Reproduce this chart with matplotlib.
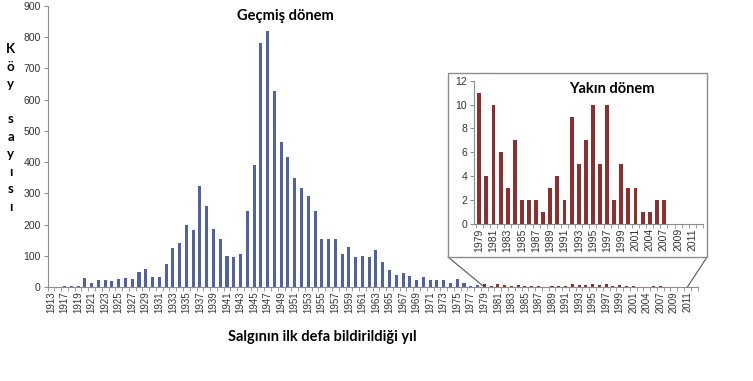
import numpy as np
import matplotlib
matplotlib.use("Agg")
import matplotlib.pyplot as plt
from matplotlib.patches import Rectangle, ConnectionPatch

plt.rcParams['font.family'] = ['Liberation Sans', 'DejaVu Sans']

# ---- data ----
past_years = [1913, 1916, 1917, 1918, 1919] + list(range(1920, 1979))
past_vals = [1, 1, 2, 4, 2,
             30, 14, 22, 21, 19, 25, 28, 26, 47, 58,
             33, 31, 73, 125, 141, 198, 184, 325, 261, 187,
             153, 99, 96, 105, 244, 390, 780, 820, 628, 464,
             417, 348, 317, 290, 245, 153, 153, 154, 106, 127,
             95, 99, 96, 117, 79, 53, 38, 44, 35, 24,
             31, 21, 21, 22, 14, 26, 14, 3, 5]

recent_years = list(range(1979, 2002)) + [2003, 2004, 2006, 2007, 2008, 2009, 2010, 2011, 2012]
recent_vals = [11, 4, 10, 6, 3, 7, 2, 2, 2, 1, 3, 4, 2, 9, 5, 7, 10, 5, 10, 2, 5, 3, 3,
               1, 1, 2, 2, 0, 0, 0, 0, 0]

title_main = "Geçmiş dönem"
title_inset = "Yakın dönem"
xlabel = "Salgının ilk defa bildirildiği yıl"
ylabel = "Köy sayısı"

blue = '#5161A2'
red = '#8E2F2F'
grey = '#8C8C8C'
txt = '#333333'
bold_font = ['Lato', 'DejaVu Sans']

all_years = past_years + recent_years
n_past = len(past_years)
n_all = len(all_years)

fig = plt.figure(figsize=(7.53, 3.81), dpi=100)

# ---- main chart ----
ax = fig.add_axes([0.0632, 0.2467, 0.8632, 0.7375])
xp = np.arange(n_past)
xr = np.arange(n_past, n_all)
ax.bar(xp, past_vals, width=0.45, color=blue)
ax.bar(xr, recent_vals, width=0.45, color=red)
ax.set_xlim(-0.5, n_all - 0.5)
ax.set_ylim(0, 900)
ax.set_yticks(np.arange(0, 901, 100))
ax.tick_params(axis='y', labelsize=7.5, colors=grey, labelcolor=txt, length=3, pad=2)
ax.set_xticks(np.arange(0, n_all, 2))
ax.set_xticklabels([str(y) for y in all_years[::2]], rotation=90, fontsize=7, color=txt)
ax.set_xticks(np.arange(-0.5, n_all, 1), minor=True)
ax.tick_params(axis='x', which='major', length=0, pad=3)
ax.tick_params(axis='x', which='minor', length=3, color=grey)
for s in ['top', 'right']:
    ax.spines[s].set_visible(False)
for s in ['left', 'bottom']:
    ax.spines[s].set_color(grey)
    ax.spines[s].set_linewidth(0.8)

fig.text(0.379, 0.957, title_main, ha='center', va='center', fontsize=10.5,
         fontweight='bold', family=bold_font)
fig.text(0.428, 0.115, xlabel, ha='center', va='center', fontsize=10.5,
         fontweight='bold', family=bold_font)
# vertical, letter-by-letter y label
fig.text(0.014, 0.664, "\n".join(list("Köy") + [""] + list("sayısı")), ha='center',
         va='center', fontsize=9.5, fontweight='bold', family=bold_font,
         linespacing=1.55)

# ---- inset frame ----
box = Rectangle((0.595, 0.3255), 0.344, 0.4829, transform=fig.transFigure,
                facecolor='white', edgecolor=grey, linewidth=1.0, zorder=3)
fig.patches.append(box)

for xb, xi in [(0.595, n_past), (0.939, n_all - 2)]:
    con = ConnectionPatch(xyA=(xb, 0.3255), coordsA=fig.transFigure,
                          xyB=(xi, 0), coordsB=ax.transData,
                          color='#555555', linewidth=0.8)
    fig.add_artist(con)

# ---- inset chart ----
axi = fig.add_axes([0.6295, 0.4121, 0.3041, 0.3761])
axi.set_zorder(5)
xi = np.arange(len(recent_years))
axi.bar(xi, recent_vals, width=0.55, color=red)
axi.set_xlim(-0.74, len(recent_years) - 0.8)
axi.set_ylim(0, 12)
axi.set_yticks(np.arange(0, 13, 2))
axi.tick_params(axis='y', labelsize=7.5, colors=grey, labelcolor=txt, length=3, pad=2)
axi.set_xticks(np.arange(0, len(recent_years), 2))
axi.set_xticklabels([str(y) for y in recent_years[::2]], rotation=90, fontsize=7.5, color=txt)
axi.set_xticks(np.arange(-0.5, len(recent_years), 1), minor=True)
axi.tick_params(axis='x', which='major', length=0, pad=3)
axi.tick_params(axis='x', which='minor', length=3, color=grey)
for s in ['top', 'right']:
    axi.spines[s].set_visible(False)
for s in ['left', 'bottom']:
    axi.spines[s].set_color(grey)
    axi.spines[s].set_linewidth(0.8)
axi.text(0.6, 0.94, title_inset, transform=axi.transAxes, ha='center', va='center',
         fontsize=10.5, fontweight='bold', family=bold_font)

fig.savefig("out.png", dpi=100)
